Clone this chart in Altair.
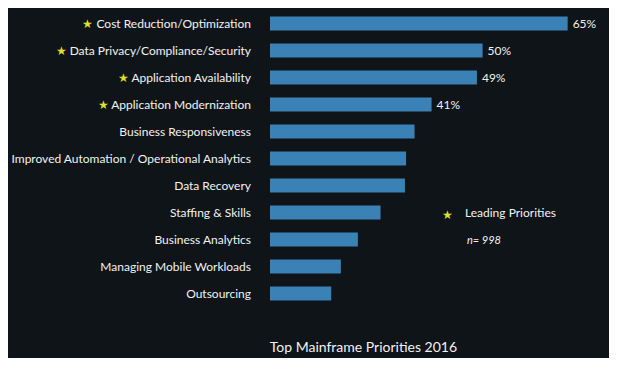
import altair as alt
import pandas as pd

categories = [
    "Cost Reduction/Optimization",
    "Data Privacy/Compliance/Security",
    "Application Availability",
    "Application Modernization",
    "Business Responsiveness",
    "Improved Automation / Operational Analytics",
    "Data Recovery",
    "Staffing & Skills",
    "Business Analytics",
    "Managing Mobile Workloads",
    "Outsourcing",
]
values = [65, 50, 49, 41, 38, 36.5, 36.3, 32, 28, 25, 23.3]
value_labels = ["65%", "50%", "49%", "41%", "", "", "", "", "", "", ""]
leading = [True, True, True, True, False, False, False, False, False, False, False]
legend_label = "Leading Priorities"
sample_note = "n= 998"
axis_start = 12.5
axis_end = 70

BG = "#0e1417"
BAR = "#3a82b6"
STAR = "#dede2c"
TXT = "#f2f2f2"
FONT = "Lato"

df = pd.DataFrame({
    "category": categories,
    "value": values,
    "vlabel": value_labels,
    "leading": leading,
})
df["starred"] = ["\u2605 " + c for c in categories]

y = alt.Y("category:N", sort=categories, axis=None,
          scale=alt.Scale(paddingInner=0.48, paddingOuter=0.24))
xs = alt.Scale(domain=[axis_start, axis_end], zero=False, nice=False)

base = alt.Chart(df)

bars = base.mark_bar(color=BAR).encode(
    x=alt.X("value:Q", scale=xs, axis=None),
    x2=alt.datum(axis_start),
    y=y,
)

text_kw = dict(align="right", baseline="middle", dx=-19, font=FONT, fontSize=12)

stars = base.transform_filter("datum.leading").mark_text(color=STAR, **text_kw).encode(
    x=alt.datum(axis_start),
    y=y,
    text="starred:N",
)

erase = base.transform_filter("datum.leading").mark_text(
    color=BG, stroke=BG, strokeWidth=1.2, **text_kw
).encode(
    x=alt.datum(axis_start),
    y=y,
    text="category:N",
)

labels = base.mark_text(color=TXT, **text_kw).encode(
    x=alt.datum(axis_start),
    y=y,
    text="category:N",
)

vals = base.transform_filter("datum.vlabel != ''").mark_text(
    align="left", baseline="middle", dx=5, font=FONT, fontSize=12, color=TXT
).encode(
    x=alt.X("value:Q", scale=xs),
    y=y,
    text="vlabel:N",
)

# legend-style annotation, laid out beside the rows it sits next to
row_a = categories[7]
row_b = categories[8]

leg_star = base.transform_filter(alt.datum.category == row_a).mark_text(
    text="\u2605", align="center", baseline="middle", dx=177, dy=2,
    font=FONT, fontSize=12, color=STAR,
).encode(x=alt.datum(axis_start), y=y)

leg_text = base.transform_filter(alt.datum.category == row_a).mark_text(
    text=legend_label, align="left", baseline="middle", dx=195,
    font=FONT, fontSize=12, color=TXT,
).encode(x=alt.datum(axis_start), y=y)

note_text = base.transform_filter(alt.datum.category == row_b).mark_text(
    text=sample_note, align="left", baseline="middle", dx=197, dy=1,
    font=FONT, fontSize=11, fontStyle="italic", color=TXT,
).encode(x=alt.datum(axis_start), y=y)

chart = alt.layer(bars, stars, erase, labels, vals, leg_star, leg_text, note_text).properties(
    width=326,
    height=297,
    title=alt.TitleParams(
        "Top Mainframe Priorities 2016", orient="bottom", anchor="start",
        dx=259, font=FONT, fontSize=14, fontWeight="normal",
        color=TXT, offset=34,
    ),
).configure(
    background=BG,
    autosize=alt.AutoSizeParams(type="none"),
    padding={"left": 262, "top": 2, "right": 13, "bottom": 51},
).configure_view(stroke=None)

chart.save("out.html", embed_options={"renderer": "svg", "actions": False})
